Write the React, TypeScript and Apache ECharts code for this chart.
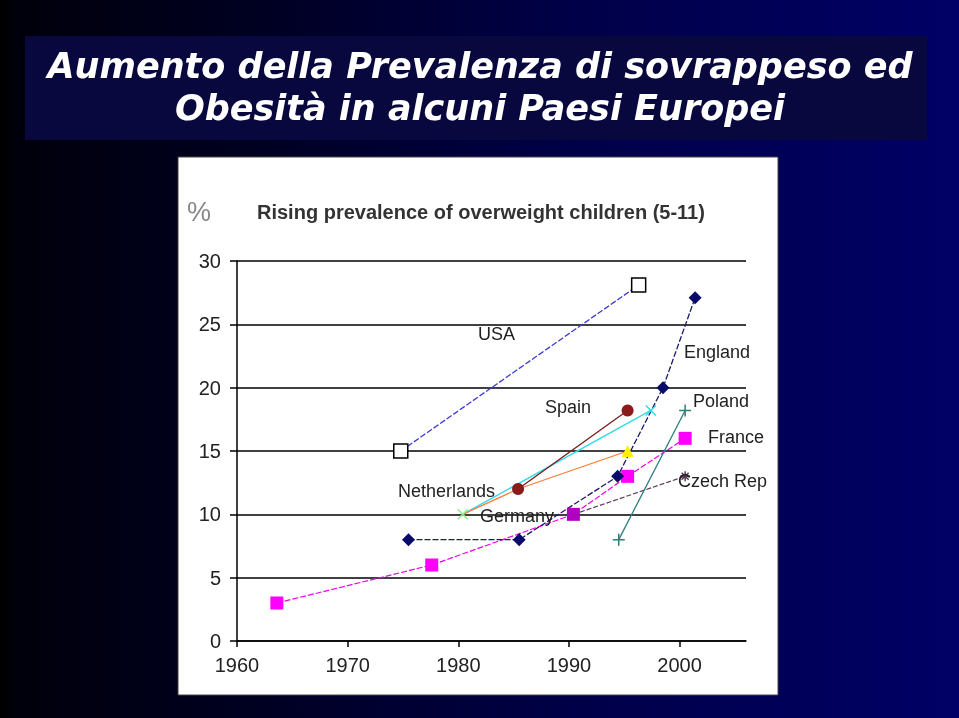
import React, { useEffect, useRef } from "react";
import * as echarts from "echarts";

const xTicks = [1960, 1970, 1980, 1990, 2000];
const yTicks = [0, 5, 10, 15, 20, 25, 30];

const usa = [[1974.8, 15], [1996.3, 28.1]];
const england = [[1975.5, 8], [1985.5, 8], [1994.4, 13], [1998.5, 20], [2001.4, 27.1]];
const spain = [[1985.4, 12], [1995.3, 18.2]];
const netherlands = [[1980.4, 10], [1985.4, 12], [1995.3, 15]];
const germany = [[1980.4, 10], [1997.4, 18.2]];
const france = [[1963.6, 3], [1977.6, 6], [1990.4, 10], [1995.3, 13], [2000.5, 16]];
const czech = [[1990.4, 10], [2000.5, 13]];
const poland = [[1994.5, 8], [2000.5, 18.2]];

const seriesLabels = [
  { text: "USA", x: 478, y: 334 },
  { text: "England", x: 684, y: 352 },
  { text: "Spain", x: 545, y: 407 },
  { text: "Poland", x: 693, y: 401 },
  { text: "France", x: 708, y: 437 },
  { text: "Netherlands", x: 398, y: 491 },
  { text: "Germany", x: 480, y: 516 },
  { text: "Czech Rep", x: 678, y: 481 },
];

const X_PATH = "path://M0,0L10,10M10,0L0,10";
const PLUS_PATH = "path://M0,5L10,5M5,0L5,10";
const STAR_PATH = "path://M0,5L10,5M5,0L5,10M1.5,1.5L8.5,8.5M8.5,1.5L1.5,8.5";

export default function App() {
  const ref = useRef<HTMLDivElement>(null);
  useEffect(() => {
    const chart = echarts.init(ref.current!, null, { renderer: "svg" });
    const labelFont = "Liberation Sans, Arial, sans-serif";
    const titleFont = "italic bold 35px 'DejaVu Sans', sans-serif";
    const option: any = {
      animation: false,
      graphic: [
        {
          type: "rect",
          z: -100,
          shape: { x: 0, y: 0, width: 959, height: 718 },
          style: {
            fill: new echarts.graphic.LinearGradient(0, 0, 1, 0, [
              { offset: 0, color: "#000000" },
              { offset: 0.02, color: "#00000c" },
              { offset: 0.25, color: "#000020" },
              { offset: 0.6, color: "#000048" },
              { offset: 1, color: "#000066" },
            ]),
          },
        },
        {
          type: "rect",
          z: -99,
          shape: { x: 25, y: 36, width: 902, height: 104 },
          style: { fill: "#08083f" },
        },
        {
          type: "text",
          z: -98,
          x: 480,
          y: 66,
          style: {
            text: "Aumento della Prevalenza di sovrappeso ed",
            fill: "#ffffff",
            font: titleFont,
            align: "center",
            verticalAlign: "middle",
          },
        },
        {
          type: "text",
          z: -98,
          x: 480,
          y: 108,
          style: {
            text: "Obesità in alcuni Paesi Europei",
            fill: "#ffffff",
            font: titleFont,
            align: "center",
            verticalAlign: "middle",
          },
        },
        {
          type: "rect",
          z: -97,
          shape: { x: 178, y: 157, width: 600, height: 538 },
          style: { fill: "#ffffff", stroke: "#444444", lineWidth: 1 },
        },
        {
          type: "text",
          z: 5,
          x: 187,
          y: 212,
          style: {
            text: "%",
            fill: "#888888",
            font: "27px " + labelFont,
            verticalAlign: "middle",
          },
        },
        {
          type: "text",
          z: 5,
          x: 257,
          y: 212,
          style: {
            text: "Rising prevalence of overweight children (5-11)",
            fill: "#333333",
            font: "bold 20px " + labelFont,
            verticalAlign: "middle",
          },
        },
        ...seriesLabels.map((l) => ({
          type: "text",
          z: 5,
          x: l.x,
          y: l.y,
          style: {
            text: l.text,
            fill: "#222222",
            font: "18px " + labelFont,
            verticalAlign: "middle",
          },
        })),
      ],
      grid: { left: 237, right: 959 - 746, top: 261, bottom: 718 - 641, containLabel: false },
      xAxis: {
        type: "value",
        min: 1960,
        max: 2006,
        interval: 10,
        axisLine: { show: true, lineStyle: { color: "#000", width: 1.5 } },
        axisTick: {
          show: true,
          length: 6,
          customValues: xTicks,
          lineStyle: { color: "#000", width: 1.5 },
        },
        splitLine: { show: false },
        axisLabel: {
          margin: 14,
          fontSize: 20,
          color: "#222",
          fontFamily: labelFont,
          customValues: xTicks,
          formatter: (v: number) => (xTicks.includes(v) ? String(v) : ""),
        },
      },
      yAxis: {
        type: "value",
        min: 0,
        max: 30,
        interval: 5,
        axisLine: { show: true, lineStyle: { color: "#000", width: 1.5 } },
        axisTick: { show: true, length: 7, lineStyle: { color: "#000", width: 1.5 } },
        splitLine: { show: true, lineStyle: { color: "#000", width: 1.5 } },
        axisLabel: {
          margin: 16,
          fontSize: 20,
          color: "#222",
          fontFamily: labelFont,
          formatter: (v: number) => (yTicks.includes(v) ? String(v) : ""),
        },
      },
      series: [
        {
          name: "Czech Rep",
          type: "line",
          data: czech.map((d, i) => ({
            value: d,
            symbol: i === czech.length - 1 ? STAR_PATH : "none",
          })),
          symbolSize: 10,
          lineStyle: { color: "#5a3a5a", width: 1.2, type: [5, 2] },
          itemStyle: { color: "none", borderColor: "#5a3a5a", borderWidth: 1.5 },
        },
        {
          name: "Poland",
          type: "line",
          data: poland,
          symbol: PLUS_PATH,
          symbolSize: 12,
          lineStyle: { color: "#2e7f7a", width: 1.3 },
          itemStyle: { color: "none", borderColor: "#2e7f7a", borderWidth: 1.5 },
        },
        {
          name: "Germany",
          type: "line",
          data: germany.map((d, i) => ({
            value: d,
            itemStyle: { borderColor: i === 0 ? "#90ee90" : "#33dde6" },
          })),
          symbol: X_PATH,
          symbolSize: 10,
          lineStyle: { color: "#33dde6", width: 1.5 },
          itemStyle: { color: "none", borderColor: "#33dde6", borderWidth: 1.5 },
        },
        {
          name: "Netherlands",
          type: "line",
          data: netherlands.map((d, i) => ({
            value: d,
            symbol: i === netherlands.length - 1 ? "triangle" : "none",
          })),
          symbolSize: 12,
          lineStyle: { color: "#ff7a3a", width: 1.3 },
          itemStyle: { color: "#ffee00" },
        },
        {
          name: "Spain",
          type: "line",
          data: spain,
          symbol: "circle",
          symbolSize: 12,
          lineStyle: { color: "#7a1a1a", width: 1.3 },
          itemStyle: { color: "#8b1a1a" },
        },
        {
          name: "France",
          type: "line",
          data: france.map((d, i) => ({
            value: d,
            itemStyle: { color: i === 2 ? "#b000c0" : "#ff00ff" },
          })),
          symbol: "rect",
          symbolSize: 13,
          lineStyle: { color: "#ee00ee", width: 1.2, type: [6, 2] },
          itemStyle: { color: "#ff00ff" },
        },
        {
          name: "England",
          type: "line",
          data: england,
          symbol: "diamond",
          symbolSize: 13,
          lineStyle: { color: "#1a1a6a", width: 1.3, type: [6, 2] },
          itemStyle: { color: "#0a0a6a" },
        },
        {
          name: "USA",
          type: "line",
          data: usa,
          symbol: "rect",
          symbolSize: 14,
          lineStyle: { color: "#3a3ad8", width: 1.3, type: [6, 2] },
          itemStyle: { color: "#ffffff", borderColor: "#000000", borderWidth: 1.5 },
        },
      ],
    };
    chart.setOption(option);
    return () => chart.dispose();
  }, []);
  return (
    <div
      ref={ref}
      style={{ position: "fixed", left: 0, top: 0, width: 959, height: 718 }}
    />
  );
}
